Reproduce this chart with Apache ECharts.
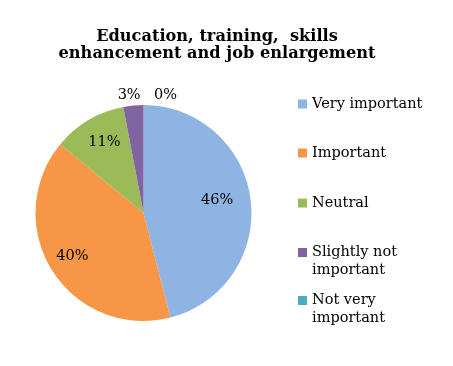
<!DOCTYPE html>
<html>
<head>
<meta charset="utf-8">
<script src="https://cdn.jsdelivr.net/npm/echarts@6/dist/echarts.min.js"></script>
<style>
html,body{margin:0;padding:0;background:#fff;}
#chart{width:453px;height:366px;}
</style>
</head>
<body>
<div id="chart"></div>
<script>
var titleText = 'Education, training,  skills\nenhancement and job enlargement';
var categories = ['Very important', 'Important', 'Neutral', 'Slightly not important', 'Not very important'];
var legendLabels = ['Very important', 'Important', 'Neutral', '\nSlightly not\nimportant', '\nNot very\nimportant'];
var values = [46, 40, 11, 3, 0];
var colors = ['#8DB4E2', '#F79646', '#9BBB59', '#8064A2', '#4BACC6'];
var labelOffsets = [[17, -6], [-23, 13], [-10, -22], [-9, -61], [22, -61]];

var FONT = '"DejaVu Serif", serif';
var chart = echarts.init(document.getElementById('chart'), null, {renderer: 'canvas'});

var legendPads = [[18.5, 0, 18.5, 0], [18.5, 0, 18.5, 0], [18.5, 0, 20.5, 0], [0, 0, 0, 0], [0, 0, 0, 0]];
var legendData = categories.map(function (c, i) {
  return { name: c, textStyle: { padding: legendPads[i] } };
});

chart.setOption({
  animation: false,
  backgroundColor: '#fff',
  title: {
    text: titleText,
    left: 217,
    textAlign: 'center',
    top: 28,
    padding: 0,
    textStyle: { fontFamily: FONT, fontWeight: 'bold', fontSize: 16.2, lineHeight: 17, color: '#000' }
  },
  legend: {
    orient: 'vertical',
    left: 298,
    top: 76.5,
    padding: 0,
    itemGap: -6,
    itemWidth: 9,
    itemHeight: 9,
    icon: 'rect',
    data: legendData,
    formatter: function (name) { return legendLabels[categories.indexOf(name)]; },
    textStyle: { fontFamily: FONT, fontSize: 14.5, lineHeight: 18, color: '#000' }
  },
  series: [{
    type: 'pie',
    center: [143.5, 213],
    radius: 108,
    startAngle: 90,
    clockwise: true,
    avoidLabelOverlap: false,
    itemStyle: { borderWidth: 0 },
    emphasis: { disabled: true },
    label: {
      show: true,
      position: 'inside',
      formatter: function (p) { return p.value + '%'; },
      fontFamily: FONT, fontSize: 14.5, color: '#000'
    },
    labelLine: { show: false },
    data: categories.map(function (c, i) {
      return {
        name: c,
        value: values[i],
        itemStyle: { color: colors[i] },
        label: { offset: labelOffsets[i] }
      };
    })
  }]
});
</script>
</body>
</html>
